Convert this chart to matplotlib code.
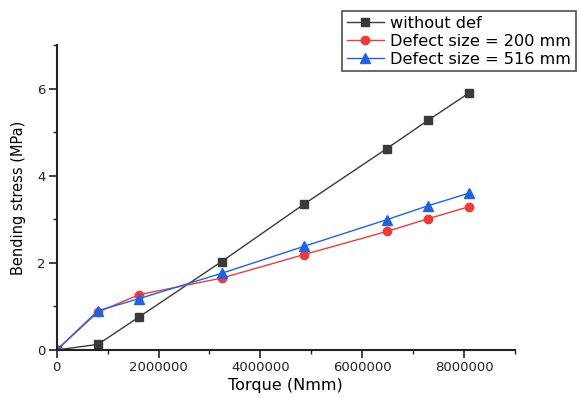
import numpy as np
import matplotlib as mpl
import matplotlib.pyplot as plt
from matplotlib.ticker import MultipleLocator

mpl.rcParams['font.family'] = ['DejaVu Sans']

# torque (Nmm) and bending stress (MPa)
torque = [0, 810000, 1620000, 3240000, 4860000, 6480000, 7290000, 8100000]
no_defect = [0.0, 0.13, 0.76, 2.03, 3.35, 4.62, 5.27, 5.90]
defect_200 = [0.0, 0.87, 1.27, 1.65, 2.19, 2.72, 3.01, 3.29]
defect_516 = [0.0, 0.90, 1.18, 1.76, 2.38, 2.99, 3.31, 3.60]
labels = ['without def', 'Defect size = 200 mm', 'Defect size = 516 mm']

fig = plt.figure(figsize=(5.81, 3.98), dpi=100)
ax = fig.add_axes([0.0976, 0.1206, 0.7888, 0.7664])

ax.plot(torque, no_defect, color='#3a3a3a', lw=1.0, marker='s', ms=6,
        mfc='#3a3a3a', mec='#3a3a3a', label=labels[0])
ax.plot(torque, defect_200, color='#f03a3a', lw=1.0, marker='o', ms=6,
        mfc='#f03a3a', mec='#f03a3a', label=labels[1])
ax.plot(torque, defect_516, color='#1f63e0', lw=1.0, marker='^', ms=7,
        mfc='#1f63e0', mec='#1f63e0', label=labels[2])

ax.set_xlim(0, 9000000)
ax.set_ylim(0, 7)
ax.xaxis.set_major_locator(MultipleLocator(2000000))
ax.xaxis.set_minor_locator(MultipleLocator(1000000))
ax.yaxis.set_major_locator(MultipleLocator(2))
ax.yaxis.set_minor_locator(MultipleLocator(1))
ax.ticklabel_format(axis='x', style='plain', useOffset=False)

for s in ['top', 'right']:
  ax.spines[s].set_visible(False)
for s in ['left', 'bottom']:
  ax.spines[s].set_linewidth(1.5)
  ax.spines[s].set_color('#222222')

ax.tick_params(which='major', direction='out', length=6, width=1.2, labelsize=9.5,
               colors='#222222', pad=2)
ax.tick_params(which='minor', direction='out', length=3, width=1.0, colors='#222222')

ax.set_xlabel('Torque (Nmm)', fontsize=11.5, labelpad=3)
ax.set_ylabel('Bending stress (MPa)', fontsize=10.5, labelpad=8)

leg = fig.legend(loc='upper left', bbox_to_anchor=(342/581, 1-11/398),
                 fontsize=11.6, frameon=True, fancybox=False, edgecolor='#222222',
                 handlelength=2.3, handletextpad=0.4, borderpad=0.3,
                 labelspacing=0.18, borderaxespad=0)
leg.get_frame().set_linewidth(1.2)

fig.savefig('out.png', dpi=100)
